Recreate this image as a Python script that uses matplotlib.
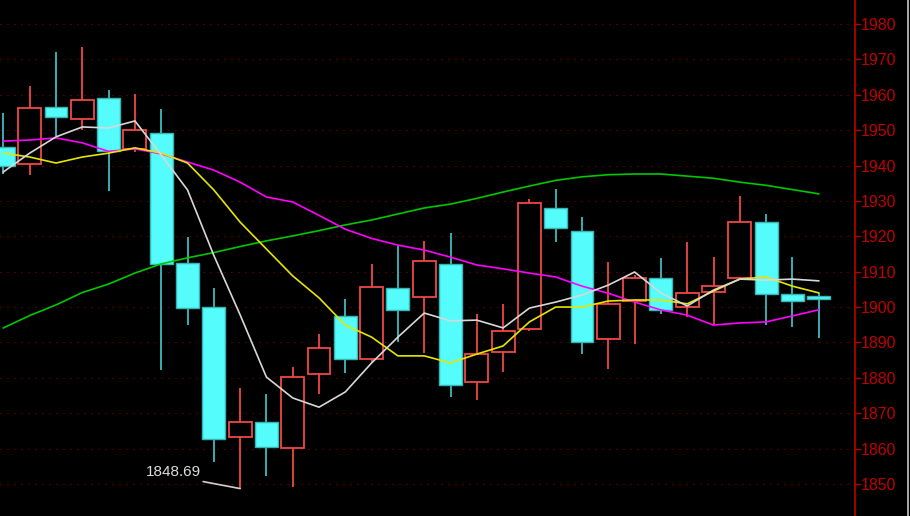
import numpy as np
import matplotlib
matplotlib.use("Agg")
import matplotlib.pyplot as plt
from matplotlib.lines import Line2D

# candle data
opens = [1945.3, 1940.5, 1956.6, 1953.2, 1959.0, 1944.7, 1949.1, 1912.4, 1900.0, 1863.2,
         1867.6, 1860.2, 1881.2, 1897.6, 1885.4, 1905.3, 1902.8, 1912.1, 1878.7, 1887.2,
         1893.8, 1927.9, 1921.6, 1891.0, 1901.7, 1908.1, 1900.1, 1904.2, 1908.3, 1924.1,
         1903.6, 1903.2]
closes = [1940.0, 1956.2, 1953.8, 1958.6, 1944.1, 1950.1, 1912.2, 1899.8, 1862.7, 1867.4,
          1860.5, 1880.2, 1888.3, 1885.3, 1905.7, 1899.2, 1913.0, 1878.0, 1886.6, 1893.2,
          1929.3, 1922.4, 1890.2, 1900.8, 1908.1, 1899.2, 1903.9, 1906.0, 1924.0, 1903.7,
          1901.8, 1902.3]
highs = [1954.8, 1962.6, 1972.2, 1973.5, 1961.3, 1960.1, 1955.9, 1919.9, 1905.3, 1877.0,
         1875.4, 1883.1, 1892.3, 1902.3, 1912.1, 1917.3, 1918.8, 1920.8, 1897.9, 1900.8,
         1930.5, 1933.3, 1925.5, 1912.8, 1909.0, 1913.8, 1918.5, 1914.2, 1931.5, 1926.2,
         1914.2, 1903.9]
lows = [1937.6, 1937.3, 1948.3, 1950.0, 1932.9, 1943.9, 1882.2, 1894.8, 1856.1, 1848.69,
        1852.3, 1849.2, 1875.4, 1881.4, 1884.5, 1890.0, 1887.1, 1874.7, 1873.7, 1881.7,
        1893.3, 1918.5, 1886.7, 1882.5, 1889.6, 1898.0, 1897.1, 1894.9, 1908.0, 1894.9,
        1894.4, 1891.3]

# moving average lines
ma_white = [1938.2, 1943.5, 1948.1, 1950.9, 1950.6, 1952.6, 1943.0, 1933.1, 1914.6, 1897.8,
            1880.2, 1874.3, 1871.7, 1876.0, 1884.2, 1891.5, 1898.3, 1896.1, 1896.3, 1894.1,
            1899.7, 1901.4, 1903.4, 1906.2, 1909.9, 1904.0, 1900.3, 1904.8, 1907.9, 1907.6,
            1907.9, 1907.4]
ma_yellow = [1943.5, 1942.4, 1940.7, 1942.4, 1943.5, 1945.0, 1943.5, 1940.7, 1933.1, 1924.0,
             1916.4, 1908.8, 1902.6, 1894.9, 1891.5, 1886.2, 1886.2, 1884.2, 1886.7, 1889.0,
             1895.8, 1900.0, 1900.0, 1901.7, 1902.0, 1902.0, 1900.9, 1904.5, 1907.9, 1908.5,
             1905.9, 1904.0]
ma_magenta = [1946.9, 1947.2, 1947.8, 1946.4, 1944.0, 1944.7, 1943.3, 1941.0, 1938.7, 1935.3,
              1931.1, 1929.7, 1925.9, 1922.0, 1919.4, 1917.5, 1916.1, 1914.1, 1911.9, 1910.8,
              1909.6, 1908.5, 1905.9, 1903.9, 1901.4, 1899.2, 1897.7, 1894.9, 1895.5, 1895.8,
              1897.5, 1899.2]
ma_green = [1894.1, 1897.6, 1900.6, 1904.1, 1906.5, 1909.6, 1912.2, 1913.9, 1915.4, 1917.1,
            1918.7, 1920.1, 1921.6, 1923.2, 1924.6, 1926.3, 1928.0, 1929.1, 1930.7, 1932.5,
            1934.2, 1935.8, 1936.8, 1937.4, 1937.6, 1937.6, 1937.0, 1936.4, 1935.3, 1934.4,
            1933.2, 1932.0]

yticks = list(range(1850, 1990, 10))

fig = plt.figure(figsize=(9.1, 5.16), dpi=100, facecolor='black')
ax = fig.add_axes([0, 0, 855 / 910, 1])
ax.set_facecolor('black')

x = np.arange(len(opens))
o = np.array(opens)
c = np.array(closes)
h = np.array(highs)
l = np.array(lows)
up = c >= o

up_col = '#f04848'
dn_fill = '#54fcfc'
dn_edge = '#38b4b4'
w = 0.87

# grid
for v in yticks:
    ax.axhline(v, color='#a00000', lw=0.72, ls=(0, (1, 6)), zorder=0)

# wicks
top = np.maximum(o, c)
bot = np.minimum(o, c)
ax.vlines(x[up], h[up], top[up], color=up_col, lw=1.3, zorder=2)
ax.vlines(x[up], l[up], bot[up], color=up_col, lw=1.3, zorder=2)
ax.vlines(x[~up], l[~up], h[~up], color='#3cbcc0', lw=1.3, zorder=2)

# bodies
ax.bar(x[up], (c - o)[up], bottom=o[up], width=w, facecolor='black',
       edgecolor=up_col, linewidth=1.3, zorder=3)
ax.bar(x[~up], (o - c)[~up], bottom=c[~up], width=w, facecolor=dn_fill,
       edgecolor=dn_edge, linewidth=1.0, zorder=3)

# moving averages
ax.plot(x, ma_green, color='#00c800', lw=1.2, zorder=4)
ax.plot(x, ma_magenta, color='#ff00ff', lw=1.2, zorder=4)
ax.plot(x, ma_yellow, color='#e6e600', lw=1.2, zorder=4)
ax.plot(x, ma_white, color='#d8d8d8', lw=1.2, zorder=4)

# lowest point label
i_low = int(np.argmin(l))
ax.annotate('', xy=(i_low, l[i_low]), xytext=(-37, 7), textcoords='offset pixels',
            arrowprops=dict(arrowstyle='-', color='#d0d0d0', lw=1.2, shrinkA=0, shrinkB=0),
            zorder=5)
ax.annotate(f'{l[i_low]:.2f}', xy=(i_low, l[i_low]), xytext=(-39, 17),
            textcoords='offset pixels', ha='right', va='center', color='#dcdcdc',
            fontsize=11, family='Liberation Sans', zorder=5)

ax.set_xlim(-0.13, 32.38)
ax.set_ylim(1840.94, 1986.78)

ax.yaxis.tick_right()
ax.set_yticks(yticks)
ax.set_yticklabels([str(v) for v in yticks])
ax.tick_params(axis='y', colors='#b00000', labelcolor='#c00000', length=4, width=1,
               pad=0, labelsize=11.4)
for t in ax.get_yticklabels():
    t.set_family('Liberation Sans')
ax.set_xticks([])
for s in ['top', 'left', 'bottom']:
    ax.spines[s].set_visible(False)
ax.spines['right'].set_color('#b00000')
ax.spines['right'].set_linewidth(1.3)

fig.add_artist(Line2D([908 / 910, 908 / 910], [0, 1], color='#c8c8c8', lw=1.2,
                      transform=fig.transFigure))

fig.savefig('out.png', dpi=100, facecolor='black')
